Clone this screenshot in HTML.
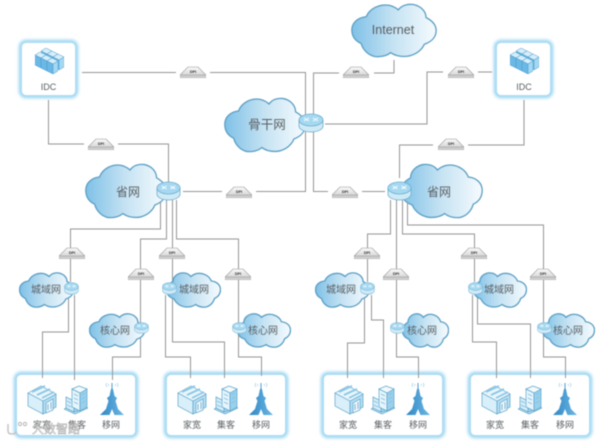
<!DOCTYPE html>
<html><head><meta charset="utf-8"><style>
html,body{margin:0;padding:0;background:#fff;width:600px;height:442px;overflow:hidden}
svg{display:block;filter:blur(.45px)}
text{font-family:"Liberation Sans","Noto Sans CJK SC",sans-serif;fill:#5a5f63;text-anchor:middle}
.l{fill:none;stroke:#959595;stroke-width:1}
</style></head><body>
<svg width="600" height="442" viewBox="0 0 600 442" xmlns="http://www.w3.org/2000/svg">
<defs>
<linearGradient id="cg" x1="0" x2="1" y1="0" y2="0"><stop offset="0" stop-color="#7fc1e7"/><stop offset=".5" stop-color="#c6e3f3"/><stop offset="1" stop-color="#f6fbfe"/></linearGradient>
<linearGradient id="tw" x1="0" x2="1" y1="0" y2="0"><stop offset="0" stop-color="#2f86c4"/><stop offset="1" stop-color="#6db8e4"/></linearGradient>
<linearGradient id="dp" x1="0" x2="0" y1="0" y2="1"><stop offset="0" stop-color="#fafafa"/><stop offset="1" stop-color="#d8d8d8"/></linearGradient>
<filter id="gl" x="-10%" y="-10%" width="120%" height="120%"><feGaussianBlur stdDeviation="1.500"/></filter>
<symbol id="cloud" viewBox="-1 -1 102 72" preserveAspectRatio="none"><path d="M11 52C3 48 0 41 0 34C0 25 7 18 17 17C21 6 33 0 44 2C48 3 52 5 55 8C59 2 66 0 73 1C82 3 88 10 88 18C95 22 100 28 100 35C100 44 94 50 86 53C82 63 72 69 62 69C55 69 50 67 46 64C42 68 34 70 27 69C19 67 13 60 11 52Z" fill="url(#cg)" stroke="#5b9fc4" stroke-width="1.300" vector-effect="non-scaling-stroke"/></symbol>
<symbol id="cloudr" viewBox="-1 -1 102 72" preserveAspectRatio="none"><path d="M89 52C97 48 100 41 100 34C100 25 93 18 83 17C79 6 67 0 56 2C52 3 48 5 45 8C41 2 34 0 27 1C18 3 12 10 12 18C5 22 0 28 0 35C0 44 6 50 14 53C18 63 28 69 38 69C45 69 50 67 54 64C58 68 66 70 73 69C81 67 87 60 89 52Z" fill="url(#cg)" stroke="#5b9fc4" stroke-width="1.300" vector-effect="non-scaling-stroke"/></symbol>
<symbol id="router" viewBox="0 0 26 20" preserveAspectRatio="none"><path d="M1 7V13C1 16.500 6.500 19 13 19S25 16.500 25 13V7Z" fill="#cfeaf7" stroke="#6eaccd" stroke-width=".8"/><ellipse cx="13" cy="7" rx="12" ry="6" fill="#a5d9f1" stroke="#6eaccd" stroke-width=".8"/><path d="M6 5L11 8M11 5L6 8M15 5L20 8M20 5L15 8" stroke="#fff" stroke-width="1" fill="none"/></symbol>
<symbol id="dpi" viewBox="0 0 26 12"><path d="M0 9L8 1H18L26 9Z" fill="url(#dp)" stroke="#969696" stroke-width=".6"/><rect x="0" y="9" width="26" height="3" fill="#cdcdcd" stroke="#a3a3a3" stroke-width=".5"/><text x="13" y="7" font-size="3.800" font-weight="bold" style="fill:#333">DPI</text></symbol>
<symbol id="b" viewBox="0 0 11 16"><g stroke="#4a9acb" stroke-width=".5"><path d="M0 3L5 0L11 3L6 6Z" fill="#d6eef9"/><path d="M0 3L6 6V16L0 13Z" fill="#6ab8e6"/><path d="M6 6L11 3V13L6 16Z" fill="#a4d8f2"/></g></symbol>
<symbol id="srv" viewBox="0 0 32 30">
<use href="#b" x="7" y="1" width="11" height="16"/><use href="#b" x="13" y="4" width="11" height="16"/><use href="#b" x="19" y="7" width="11" height="16"/>
<use href="#b" x="1" y="5" width="11" height="16"/><use href="#b" x="7" y="8" width="11" height="16"/><use href="#b" x="13" y="11" width="11" height="16"/>
</symbol>
<symbol id="house" viewBox="0 0 30 30"><g stroke="#5fa5cb" stroke-width=".7"><path d="M1 8L16 16V29L1 21Z" fill="#d9eff9"/><path d="M16 16L29 9V22L16 29Z" fill="#b1dcf2"/><path d="M1 8L14 1L29 9L16 16Z" fill="#e9f6fc"/><path d="M5 7L18 1M10 10L23 4M15 13L27 7" fill="none" stroke-width="1.800" stroke="#8cc7e6"/><path d="M19 18L26 14V25L19 28Z" fill="#eef8fc"/><path d="M21 19V25M24 17V24" fill="none" stroke="#4f97c0"/></g></symbol>
<symbol id="bld" viewBox="0 0 24 30"><g stroke="#5fa5cb" stroke-width=".7"><path d="M0 24L11 29L24 23L12 18Z" fill="#bfe3f4"/><path d="M2 12L10 16V27L2 23Z" fill="#d6eef9"/><path d="M10 16L14 14V26L10 27Z" fill="#a2d5ef"/><path d="M8 4L16 8V26L8 22Z" fill="#e6f5fb"/><path d="M16 8L23 4V22L16 26Z" fill="#99d0ec"/><path d="M8 4L15 1L23 4L16 8Z" fill="#f2fafd"/><path d="M3 16L7 18M3 20L7 22M10 9L14 11M10 13L14 15M10 17L14 19M18 10L21 8M18 14L21 12M18 18L21 16" fill="none" stroke="#78bbdf"/></g></symbol>
<symbol id="tower" viewBox="0 0 24 34"><path d="M11 7H13L14.500 14L17 16L15.500 19L18 27L24 33H14.500L12 27L9.500 33H0L6 27L8.500 19L7 16L9.500 14Z" fill="url(#tw)"/><path d="M12 1V8" stroke="#3f8fc8" stroke-width=".9"/><path d="M7 1Q5 3 7 5M17 1Q19 3 17 5M9 2Q8 3 9 4M15 2Q16 3 15 4" stroke="#a8cfe4" stroke-width=".7" fill="none"/></symbol>
</defs>
<rect width="600" height="442" fill="#fff"/>

<!-- panels -->
<g stroke="#8fd2f0" stroke-width="4" fill="#fff" filter="url(#gl)">
<rect x="16" y="374" width="120" height="62" rx="5"/><rect x="166" y="374" width="120" height="62" rx="5"/><rect x="323" y="374" width="120" height="62" rx="5"/><rect x="470" y="374" width="120" height="62" rx="5"/>
<rect x="21" y="42" width="55" height="54" rx="5"/><rect x="496" y="42" width="55" height="54" rx="5"/>
</g>
<g fill="#fff">
<rect x="17" y="375" width="118" height="60" rx="4"/><rect x="167" y="375" width="118" height="60" rx="4"/><rect x="324" y="375" width="118" height="60" rx="4"/><rect x="471" y="375" width="118" height="60" rx="4"/>
<rect x="22" y="43" width="53" height="52" rx="4"/><rect x="497" y="43" width="53" height="52" rx="4"/>
</g>

<!-- connectors -->
<g class="l">
<path d="M82 72.500H305.500V191.500H183"/>
<path d="M48.500 100V144H168.500V182"/>
<path d="M394 60V73H313.500V191.500H385"/>
<path d="M325 124H427V72H492"/>
<path d="M524 100V145H399.500V178"/>
<path d="M160.500 200V229H70.500V282"/>
<path d="M166.500 200V239H140.500V357H112.500V380"/>
<path d="M172.500 200V342H224.500V378"/>
<path d="M176.500 200V239H238.500V357H261.500V376"/>
<path d="M165.500 295V357H190.500V378"/>
<path d="M68.500 295V332H42.500V378"/>
<path d="M74.500 295V380"/>
<path d="M390.500 200V234H367.500V282"/>
<path d="M396.500 200V357H418.500V378"/>
<path d="M402.500 200V234H474.500V282"/>
<path d="M407.500 200V225H543.500V357H565.500V378"/>
<path d="M364.500 295V343H347.500V378"/>
<path d="M371.500 295V320H383.500V378"/>
<path d="M472.500 295V342H496.500V378"/>
<path d="M477.500 295V324H530.500V378"/>
</g>

<!-- DPI boxes with gaps -->
<g fill="#fff">
<rect x="176" y="65" width="34" height="15"/><rect x="339" y="65" width="35" height="15"/><rect x="443" y="65" width="35" height="15"/><rect x="84" y="137" width="34" height="15"/><rect x="433" y="137" width="35" height="15"/><rect x="222" y="184" width="34" height="15"/><rect x="328" y="184" width="34" height="15"/>
</g>
<use href="#dpi" x="180" y="66" width="26" height="12"/>
<use href="#dpi" x="343" y="66" width="26" height="12"/>
<use href="#dpi" x="448" y="66" width="26" height="12"/>
<use href="#dpi" x="88" y="138" width="26" height="12"/>
<use href="#dpi" x="438" y="138" width="26" height="12"/>
<use href="#dpi" x="226" y="186" width="26" height="12"/>
<use href="#dpi" x="332" y="186" width="26" height="12"/>
<use href="#dpi" x="59" y="247" width="26" height="12"/>
<use href="#dpi" x="128" y="268" width="26" height="12"/>
<use href="#dpi" x="159" y="247" width="26" height="12"/>
<use href="#dpi" x="225" y="268" width="26" height="12"/>
<use href="#dpi" x="354" y="247" width="26" height="12"/>
<use href="#dpi" x="383" y="268" width="26" height="12"/>
<use href="#dpi" x="461" y="247" width="26" height="12"/>
<use href="#dpi" x="530" y="268" width="26" height="12"/>

<!-- clouds -->
<use href="#cloud" x="351" y="3" width="86" height="55"/>
<use href="#cloud" x="224" y="97" width="82" height="56"/>
<use href="#cloud" x="85" y="163" width="82" height="56"/>
<use href="#cloudr" x="400" y="163" width="83" height="56"/>
<use href="#cloud" x="19" y="272" width="55" height="36"/>
<use href="#cloud" x="89" y="313" width="56" height="35"/>
<use href="#cloudr" x="166" y="272" width="55" height="36"/>
<use href="#cloudr" x="237" y="313" width="54" height="35"/>
<use href="#cloud" x="315" y="272" width="55" height="36"/>
<use href="#cloudr" x="402" y="313" width="47" height="35"/>
<use href="#cloudr" x="473" y="272" width="54" height="36"/>
<use href="#cloudr" x="542" y="313" width="53" height="35"/>

<!-- routers -->
<use href="#router" x="298" y="113" width="26" height="20"/>
<use href="#router" x="156" y="181" width="25" height="20"/>
<use href="#router" x="387" y="181" width="25" height="20"/>
<use href="#router" x="64" y="282" width="15" height="13"/>
<use href="#router" x="134" y="322" width="15" height="12"/>
<use href="#router" x="162" y="282" width="15" height="13"/>
<use href="#router" x="232" y="322" width="15" height="12"/>
<use href="#router" x="360" y="282" width="15" height="13"/>
<use href="#router" x="390" y="322" width="15" height="12"/>
<use href="#router" x="468" y="282" width="15" height="13"/>
<use href="#router" x="537" y="322" width="15" height="12"/>

<!-- icons -->
<use href="#srv" x="34" y="47" width="32" height="30"/>
<use href="#srv" x="509" y="47" width="32" height="30"/>
<use href="#house" x="27" y="385" width="30" height="30"/><use href="#bld" x="64" y="385" width="24" height="30"/><use href="#tower" x="100" y="382" width="24" height="34"/>
<use href="#house" x="177" y="385" width="30" height="30"/><use href="#bld" x="214" y="385" width="24" height="30"/><use href="#tower" x="249" y="382" width="24" height="34"/>
<use href="#house" x="334" y="385" width="30" height="30"/><use href="#bld" x="371" y="385" width="24" height="30"/><use href="#tower" x="406" y="382" width="24" height="34"/>
<use href="#house" x="481" y="385" width="30" height="30"/><use href="#bld" x="518" y="385" width="24" height="30"/><use href="#tower" x="553" y="382" width="24" height="34"/>

<!-- labels -->
<text x="393" y="34" font-size="12.500">Internet</text>
<text x="48.500" y="90" font-size="9">IDC</text><text x="524" y="90" font-size="9">IDC</text>
<text x="267" y="129" font-size="12.500">骨干网</text>
<text x="128" y="196" font-size="12">省网</text><text x="439" y="196" font-size="12">省网</text>
<g font-size="10">
<text x="46" y="293">城域网</text><text x="194" y="293">城域网</text><text x="341" y="293">城域网</text><text x="499" y="293">城域网</text>
<text x="115" y="334">核心网</text><text x="263" y="334">核心网</text><text x="422" y="334">核心网</text><text x="568" y="334">核心网</text>
</g>
<g font-size="9">
<text x="42" y="428">家宽</text><text x="77" y="428">集客</text><text x="111" y="428">移网</text>
<text x="192" y="428">家宽</text><text x="226" y="428">集客</text><text x="261" y="428">移网</text>
<text x="348" y="428">家宽</text><text x="383" y="428">集客</text><text x="418" y="428">移网</text>
<text x="495" y="428">家宽</text><text x="530" y="428">集客</text><text x="565" y="428">移网</text>
</g>

<!-- watermark -->
<g stroke="#a0a0a0" stroke-width=".7" fill="#fff">
<path d="M8 424V431Q8 434 12 434Q16 434 16 431" fill="none" stroke="#c4c4c4" stroke-width="1.500"/>
<circle cx="20" cy="424" r="1.600"/><circle cx="25" cy="424" r="1.600"/>
</g>
<text x="56" y="433" font-size="12" style="fill:#f5f5f5;stroke:#999;stroke-width:.4">大数智路</text>
</svg>
</body></html>
